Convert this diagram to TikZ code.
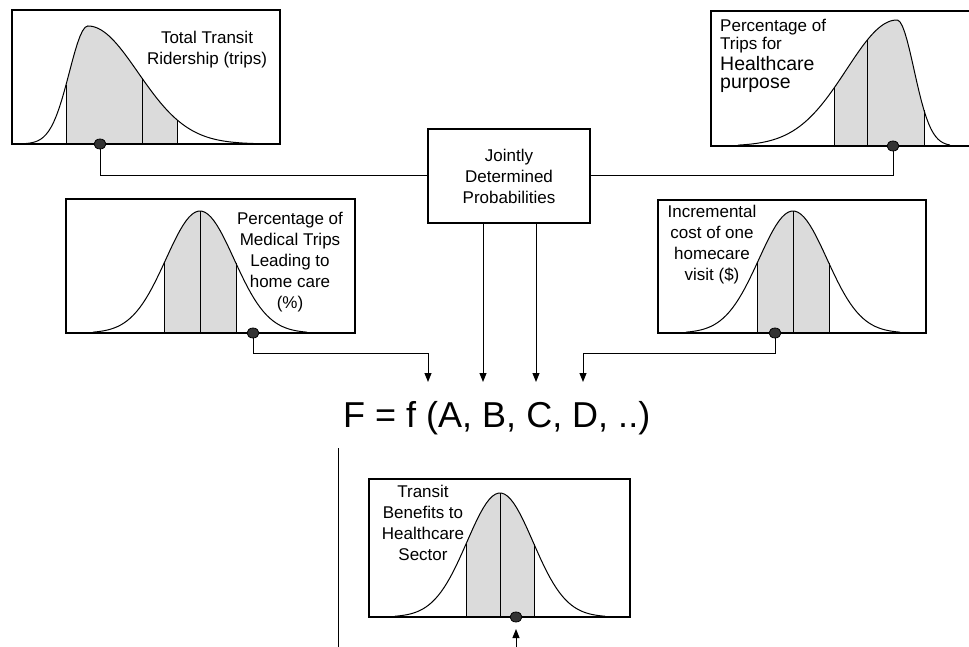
\documentclass[tikz,border=0pt]{standalone}
\usepackage{fontspec}
\setmainfont{Liberation Sans}
\usetikzlibrary{positioning}
\usetikzlibrary{arrows.meta,shapes.geometric}
\usetikzlibrary{calc}
\tikzstyle{edge} = [draw,line width=1pt,-{Triangle[width=7pt,length=9pt]}]
\tikzstyle{undirectededge} = [draw,line width=1pt]
\tikzstyle{frame} = [draw,line width=1.2pt,inner sep=0pt]
\tikzstyle{curve} = [draw,line width=1pt]
\tikzstyle{shadearea} = [fill=black!14]
\tikzstyle{dot} = [ellipse,draw,line width=0.8pt,fill=black!80,minimum width=12pt,minimum height=10pt,inner sep=0pt]
\tikzstyle{boxtext} = [align=center,inner sep=0pt,anchor=north,font=\fontsize{17}{21}\selectfont]

\begin{document}
\begin{tikzpicture}[x=1pt,y=-1pt,
  declare function={bell(\x,\m,\s)=exp(-0.5*((\x-\m)/\s)^2);
                    skw(\x,\m,\a,\b)=exp(-0.5*((\x-\m)/ifthenelse(\x<\m,\a,\b))^2);}]
\useasboundingbox (0,0) rectangle (969,647);

% ---- shaded middle parts of the distributions
\fill[shadearea] (66,144) -- plot[domain=66:177,samples=40] (\x,{144-118*skw(\x,88,18.7,50)}) -- (177,144) -- cycle;
\fill[shadearea] (834,146) -- plot[domain=834:924,samples=40] (\x,{146-126*skw(\x,897,50.5,17)}) -- (924,146) -- cycle;
\fill[shadearea] (164,333) -- plot[domain=164:236,samples=30] (\x,{333-122*bell(\x,200,34)}) -- (236,333) -- cycle;
\fill[shadearea] (757,333) -- plot[domain=757:829,samples=30] (\x,{333-122*bell(\x,793,34)}) -- (829,333) -- cycle;
\fill[shadearea] (466,617) -- plot[domain=466:534,samples=30] (\x,{617-124*bell(\x,500,33)}) -- (534,617) -- cycle;

% ---- curves
\path[curve] plot[domain=25:258,samples=90] (\x,{144-118*skw(\x,88,18.7,50)});
\path[curve] plot[domain=738:950,samples=90] (\x,{146-126*skw(\x,897,50.5,17)});
\path[curve] plot[domain=93:307,samples=70] (\x,{333-122*bell(\x,200,34)});
\path[curve] plot[domain=686:900,samples=70] (\x,{333-122*bell(\x,793,34)});
\path[curve] plot[domain=395:605,samples=70] (\x,{617-124*bell(\x,500,33)});

\foreach \t in {66,142,177} \path[curve] (\t,144) -- (\t,{144-118*skw(\t,88,18.7,50)});
\foreach \t in {834,867,924} \path[curve] (\t,146) -- (\t,{146-126*skw(\t,897,50.5,17)});
\foreach \t in {164,200,236} \path[curve] (\t,333) -- (\t,{333-122*bell(\t,200,34)});
\foreach \t in {757,793,829} \path[curve] (\t,333) -- (\t,{333-122*bell(\t,793,34)});
\foreach \t in {466,500,534} \path[curve] (\t,617) -- (\t,{617-124*bell(\t,500,33)});

% ---- boxes
\node[frame,minimum width=268pt,minimum height=134pt] (ridership) at (146,77) {};
\node[frame,minimum width=270pt,minimum height=135pt] (purpose) at (846,78.5) {};
\node[frame,minimum width=289pt,minimum height=134pt] (homecare) at (210.5,266) {};
\node[frame,minimum width=268pt,minimum height=133pt] (visitcost) at (792,266.5) {};
\node[frame,minimum width=261pt,minimum height=138pt] (benefits) at (499.5,548) {};
\node[frame,minimum width=162pt,minimum height=94pt] (jdp) at (509,176) {};

% ---- texts
\node[boxtext] (ridership-txt) at (207,31) {Total Transit\\Ridership (trips)};
\node[boxtext,align=left,anchor=north west,font=\fontsize{17}{18}\selectfont] (purpose-txt) at (720,19)
  {Percentage of\\Trips for\\[3pt]{\fontsize{19.5}{18}\selectfont Healthcare}\\[0.5pt]{\fontsize{19.5}{18}\selectfont purpose}};
\node[boxtext] (homecare-txt) at (290,212) {Percentage of\\Medical Trips\\Leading to\\home care\\(\%)};
\node[boxtext] (visitcost-txt) at (712,205) {Incremental\\cost of one\\homecare\\visit (\$)};
\node[boxtext] (benefits-txt) at (423,485) {Transit\\Benefits to\\Healthcare\\Sector};
\node[boxtext] (jdp-txt) at (509,149) {Jointly\\Determined\\Probabilities};
\node[anchor=base west,inner sep=0pt,font=\fontsize{36}{40}\selectfont] (formula) at (343,427) {F = f (A, B, C, D, ..)};

% ---- sample points
\node[dot] (ridership-dot) at (100,144) {};
\node[dot] (purpose-dot) at (893,146) {};
\node[dot] (homecare-dot) at (253,333) {};
\node[dot] (visitcost-dot) at (775,333) {};
\node[dot] (benefits-dot) at (516,617) {};

% ---- connectors
\coordinate (inA) at (428,382);
\coordinate (inB) at (483,382);
\coordinate (inC) at (536,382);
\coordinate (inD) at (583,382);
\coordinate (outF) at (516,647);
\coordinate (outF-tip) at (516,629);
\coordinate (stem-top) at (338,448);
\coordinate (stem-bot) at (338,647);

\path[undirectededge] (ridership-dot) |- (jdp);
\path[undirectededge] (purpose-dot) |- (jdp);
\path[edge] (homecare-dot.south) -- ++(0,15) -| (inA);
\path[edge] (jdp.south -| inB) -- (inB);
\path[edge] (jdp.south -| inC) -- (inC);
\path[edge] (visitcost-dot.south) -- ++(0,15) -| (inD);
\path[edge] (outF) -- (outF-tip);
\path[undirectededge] (stem-top) -- (stem-bot);

\end{tikzpicture}
\end{document}
